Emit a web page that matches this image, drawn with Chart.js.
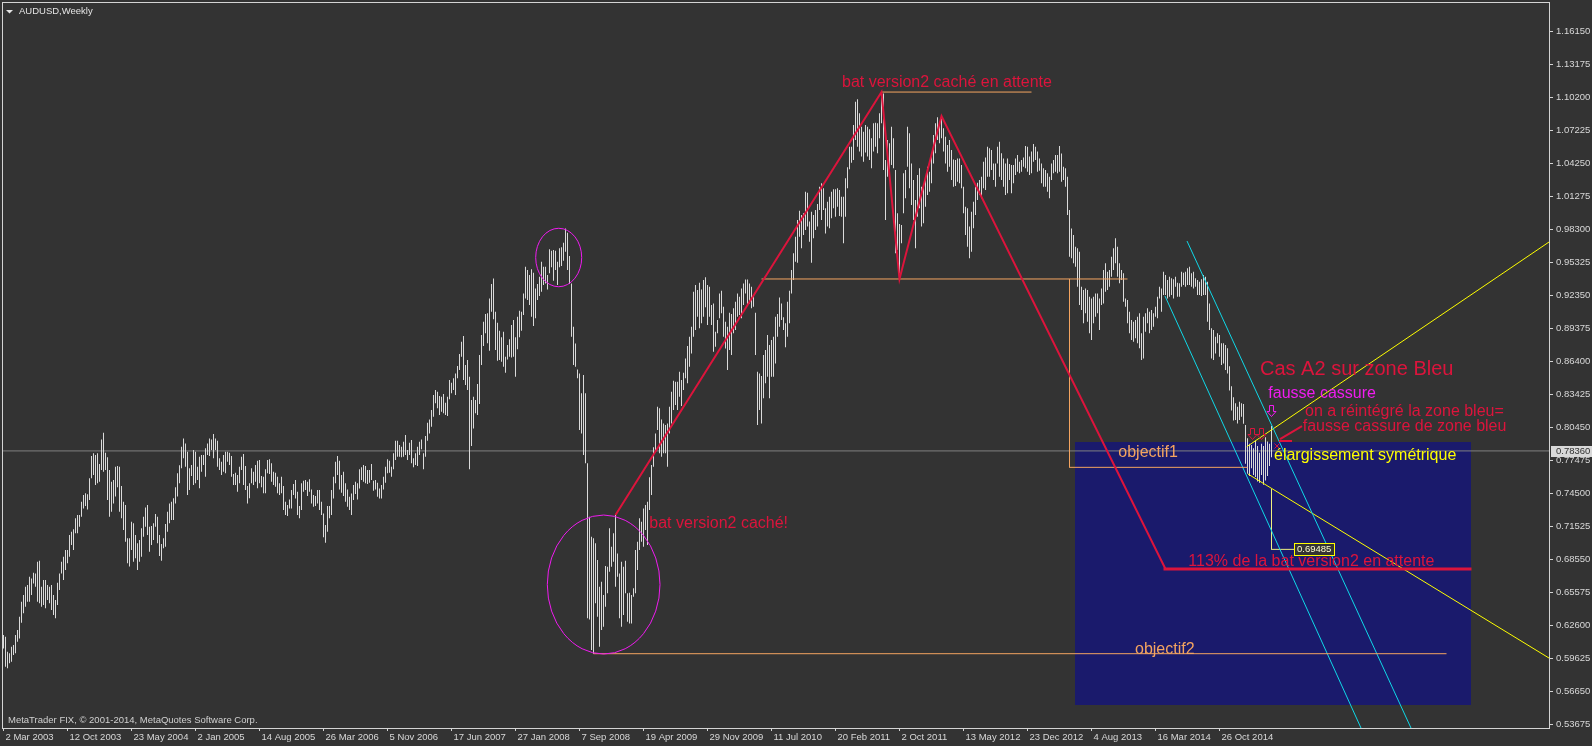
<!DOCTYPE html>
<html>
<head>
<meta charset="utf-8">
<title>AUDUSD,Weekly</title>
<script src="https://cdn.jsdelivr.net/npm/chart.js@4.4.1/dist/chart.umd.min.js"></script>
<style>
  html, body { margin: 0; padding: 0; background: #333333; }
  #wrap { width: 1592px; height: 746px; position: relative; }
</style>
</head>
<body>
<div id="wrap"><canvas id="chart"></canvas></div>
<script>
// weekly bars, one per week from the week of 2 Mar 2003 (index 0)
const highs = [
  0.6176,0.6161,0.6026,0.6011,0.6071,0.6086,0.6176,0.6222,0.6342,0.6477,
  0.6537,0.6612,0.6627,0.6702,0.6687,0.6738,0.6732,0.6838,0.6847,0.6612,
  0.6672,0.6672,0.6627,0.6612,0.6627,0.6537,0.6492,0.6648,0.6732,0.6838,
  0.6883,0.6943,0.6943,0.7078,0.7108,0.7129,0.7228,0.7258,0.7258,0.7378,
  0.7439,0.7454,0.7445,0.7589,0.7790,0.7814,0.7799,0.7814,0.7718,0.7940,
  0.8000,0.7820,0.7778,0.7664,0.7559,0.7574,0.7694,0.7700,0.7694,0.7520,
  0.7378,0.7348,0.7048,0.7048,0.7198,0.7183,0.7078,0.7003,0.7033,0.7138,
  0.7243,0.7327,0.7348,0.7153,0.7159,0.7183,0.7267,0.7243,0.7078,0.6997,
  0.7048,0.7177,0.7288,0.7363,0.7378,0.7409,0.7508,0.7634,0.7706,0.7874,
  0.7949,0.7904,0.7829,0.7679,0.7709,0.7844,0.7829,0.7694,0.7784,0.7799,
  0.7799,0.7859,0.7904,0.7949,0.7940,0.7988,0.7949,0.7928,0.7769,0.7739,
  0.7799,0.7829,0.7829,0.7820,0.7790,0.7628,0.7640,0.7619,0.7694,0.7784,
  0.7808,0.7700,0.7520,0.7544,0.7679,0.7649,0.7709,0.7748,0.7754,0.7610,
  0.7604,0.7670,0.7754,0.7760,0.7724,0.7649,0.7640,0.7604,0.7544,0.7604,
  0.7519,0.7378,0.7348,0.7399,0.7483,0.7537,0.7573,0.7468,0.7339,0.7544,
  0.7568,0.7573,0.7558,0.7580,0.7489,0.7438,0.7429,0.7483,0.7483,0.7378,
  0.7273,0.7168,0.7339,0.7339,0.7483,0.7604,0.7739,0.7790,0.7748,0.7619,
  0.7649,0.7544,0.7489,0.7423,0.7453,0.7528,0.7558,0.7544,0.7670,0.7688,
  0.7709,0.7700,0.7664,0.7664,0.7718,0.7568,0.7573,0.7549,0.7498,0.7528,
  0.7604,0.7694,0.7760,0.7748,0.7694,0.7814,0.7928,0.7928,0.7889,0.7874,
  0.7919,0.7979,0.7844,0.7910,0.7934,0.7769,0.7814,0.7874,0.7919,0.7940,
  0.7814,0.7970,0.8090,0.8120,0.8205,0.8340,0.8385,0.8370,0.8331,0.8325,
  0.8349,0.8271,0.8325,0.8475,0.8451,0.8490,0.8535,0.8601,0.8709,0.8821,
  0.8872,0.8610,0.8655,0.8505,0.8295,0.8325,0.8295,0.8439,0.8700,0.8881,
  0.9001,0.9070,0.9076,0.9211,0.9340,0.9391,0.9091,0.8992,0.8920,0.8860,
  0.8911,0.8685,0.8791,0.8842,0.8971,0.9016,0.8860,0.9046,0.9100,0.9091,
  0.9256,0.9497,0.9467,0.9421,0.9473,0.9443,0.9301,0.9340,0.9407,0.9542,
  0.9497,0.9497,0.9422,0.9653,0.9641,0.9647,0.9641,0.9542,0.9662,0.9671,
  0.9713,0.9842,0.9803,0.9593,0.9346,0.8956,0.8805,0.8571,0.8535,0.8355,
  0.8520,0.8355,0.7724,0.7243,0.7063,0.7048,0.7003,0.6852,0.6612,0.6657,
  0.6537,0.6798,0.6792,0.7138,0.6972,0.7093,0.7258,0.6912,0.6732,0.6837,
  0.6792,0.6846,0.6552,0.6558,0.6537,0.6597,0.6942,0.7017,0.7228,0.7198,
  0.7318,0.7348,0.7378,0.7598,0.7709,0.7868,0.7994,0.8235,0.8220,0.8120,
  0.8084,0.8069,0.8084,0.8235,0.8370,0.8469,0.8460,0.8460,0.8550,0.8475,
  0.8541,0.8670,0.8782,0.8866,0.8956,0.9271,0.9331,0.9286,0.9352,0.9292,
  0.9376,0.9401,0.9331,0.9316,0.9151,0.9166,0.8911,0.9016,0.9256,0.9280,
  0.9136,0.9001,0.8956,0.9082,0.9070,0.9121,0.9181,0.9256,0.9226,0.9301,
  0.9346,0.9382,0.9382,0.9346,0.9316,0.9241,0.9082,0.8550,0.8535,0.8511,
  0.8700,0.8745,0.8881,0.8790,0.8835,0.8866,0.9046,0.9070,0.9220,0.9166,
  0.9040,0.8986,0.9181,0.9280,0.9467,0.9617,0.9767,0.9917,1.0002,0.9963,
  0.9978,1.0173,1.0164,0.9903,0.9993,0.9963,1.0008,1.0062,1.0218,1.0248,
  1.0203,1.0023,1.0083,1.0128,1.0173,1.0194,1.0194,1.0203,1.0188,1.0128,
  1.0128,1.0293,1.0392,1.0579,1.0579,1.0774,1.0984,1.1005,1.0879,1.0759,
  1.0714,1.0774,1.0759,1.0735,1.0654,1.0789,1.0795,1.0789,1.0879,1.1071,
  1.1059,1.0458,1.0639,1.0609,1.0759,1.0654,1.0368,0.9978,0.9882,0.9873,
  1.0338,1.0368,1.0759,1.0699,1.0428,1.0278,1.0098,1.0323,1.0383,1.0218,
  1.0218,1.0278,1.0398,1.0353,1.0489,1.0684,1.0789,1.0843,1.0804,1.0855,
  1.0744,1.0669,1.0594,1.0639,1.0549,1.0464,1.0458,1.0473,1.0473,1.0413,
  1.0218,1.0038,1.0023,0.9858,0.9993,1.0083,1.0218,1.0254,1.0278,1.0308,
  1.0443,1.0482,1.0579,1.0564,1.0549,1.0428,1.0428,1.0579,1.0624,1.0519,
  1.0473,1.0428,1.0473,1.0422,1.0413,1.0413,1.0473,1.0504,1.0443,1.0458,
  1.0482,1.0585,1.0579,1.0489,1.0534,1.0603,1.0579,1.0534,1.0473,1.0428,
  1.0383,1.0368,1.0338,1.0308,1.0428,1.0458,1.0503,1.0503,1.0585,1.0518,
  1.0398,1.0383,1.0308,1.0008,0.9842,0.9782,0.9677,0.9662,0.9632,0.9316,
  0.9286,0.9301,0.9286,0.9226,0.9211,0.9226,0.9256,0.9256,0.9211,0.9301,
  0.9467,0.9527,0.9452,0.9467,0.9587,0.9662,0.9752,0.9677,0.9527,0.9467,
  0.9437,0.9211,0.9196,0.9091,0.9016,0.9001,0.9016,0.9046,0.9076,0.8896,
  0.9046,0.9076,0.9121,0.9091,0.9106,0.9076,0.9136,0.9226,0.9316,0.9301,
  0.9452,0.9422,0.9377,0.9407,0.9392,0.9383,0.9407,0.9353,0.9347,0.9452,
  0.9443,0.9452,0.9482,0.9497,0.9437,0.9452,0.9392,0.9377,0.9362,0.9383,
  0.9422,0.9407,0.9362,0.9166,0.8941,0.8926,0.8866,0.8896,0.8881,0.8806,
  0.8806,0.8791,0.8761,0.8600,0.8420,0.8320,0.8265,0.8235,0.8280,0.8265,
  0.8260,0.8070,0.7950,0.7900,0.7890,0.7860,0.7930,0.7880,0.7820,0.7900,
  0.7880,0.7960,0.7920,0.7900,0.8060
];
const lows = [
  0.6056,0.5891,0.5876,0.5921,0.5936,0.5996,0.6011,0.6116,0.6146,0.6288,
  0.6372,0.6432,0.6477,0.6477,0.6537,0.6642,0.6612,0.6477,0.6462,0.6432,
  0.6447,0.6417,0.6492,0.6462,0.6402,0.6357,0.6327,0.6447,0.6582,0.6732,
  0.6672,0.6762,0.6823,0.6883,0.6988,0.6943,0.7093,0.7093,0.7153,0.7243,
  0.7318,0.7339,0.7309,0.7394,0.7589,0.7619,0.7529,0.7544,0.7559,0.7664,
  0.7649,0.7664,0.7394,0.7243,0.7288,0.7363,0.7424,0.7508,0.7288,0.7228,
  0.7123,0.7018,0.6823,0.6793,0.6943,0.6838,0.6868,0.6762,0.6838,0.6883,
  0.7063,0.7153,0.7078,0.6928,0.6988,0.7033,0.7153,0.7003,0.6889,0.6847,
  0.6958,0.6973,0.7108,0.7183,0.7213,0.7213,0.7363,0.7424,0.7544,0.7679,
  0.7769,0.7694,0.7439,0.7484,0.7610,0.7529,0.7544,0.7574,0.7499,0.7649,
  0.7709,0.7604,0.7799,0.7790,0.7844,0.7769,0.7844,0.7694,0.7664,0.7619,
  0.7649,0.7634,0.7739,0.7709,0.7604,0.7529,0.7529,0.7469,0.7544,0.7664,
  0.7529,0.7484,0.7363,0.7409,0.7544,0.7529,0.7559,0.7499,0.7544,0.7508,
  0.7454,0.7454,0.7634,0.7628,0.7558,0.7528,0.7513,0.7454,0.7438,0.7454,
  0.7303,0.7258,0.7249,0.7318,0.7318,0.7438,0.7408,0.7258,0.7228,0.7303,
  0.7468,0.7483,0.7429,0.7468,0.7363,0.7333,0.7339,0.7363,0.7303,0.7258,
  0.7057,0.7009,0.7108,0.7228,0.7258,0.7408,0.7544,0.7619,0.7489,0.7459,
  0.7429,0.7378,0.7333,0.7303,0.7258,0.7393,0.7447,0.7399,0.7498,0.7573,
  0.7558,0.7544,0.7537,0.7549,0.7573,0.7477,0.7489,0.7423,0.7408,0.7408,
  0.7489,0.7549,0.7634,0.7640,0.7604,0.7670,0.7754,0.7784,0.7784,0.7778,
  0.7784,0.7799,0.7754,0.7799,0.7724,0.7688,0.7709,0.7700,0.7799,0.7850,
  0.7670,0.7784,0.7928,0.7994,0.8054,0.8145,0.8265,0.8220,0.8160,0.8190,
  0.8175,0.8160,0.8150,0.8301,0.8355,0.8385,0.8340,0.8490,0.8565,0.8685,
  0.8475,0.8430,0.8385,0.7670,0.7880,0.8039,0.8175,0.8160,0.8259,0.8610,
  0.8782,0.8896,0.8806,0.8739,0.9091,0.9022,0.8745,0.8649,0.8655,0.8640,
  0.8595,0.8541,0.8661,0.8685,0.8679,0.8685,0.8505,0.8752,0.8860,0.8920,
  0.9061,0.9211,0.9196,0.9151,0.9046,0.8962,0.9031,0.9196,0.9232,0.9271,
  0.9331,0.9346,0.9292,0.9437,0.9491,0.9370,0.9467,0.9331,0.9491,0.9503,
  0.9551,0.9632,0.9467,0.9340,0.8866,0.8610,0.8595,0.8490,0.8024,0.7994,
  0.7799,0.7724,0.6327,0.6317,0.6041,0.6008,0.6462,0.6342,0.6071,0.6221,
  0.6251,0.6432,0.6552,0.6747,0.6792,0.6837,0.6612,0.6702,0.6327,0.6251,
  0.6357,0.6552,0.6296,0.6281,0.6281,0.6522,0.6552,0.6762,0.6942,0.7017,
  0.6972,0.7123,0.6987,0.7303,0.7438,0.7694,0.7829,0.8024,0.7814,0.7784,
  0.7814,0.7814,0.7694,0.7994,0.8084,0.8205,0.8250,0.8205,0.8325,0.8241,
  0.8385,0.8490,0.8445,0.8595,0.8715,0.8866,0.8926,0.9046,0.8941,0.8986,
  0.9046,0.9130,0.8971,0.9046,0.8971,0.8730,0.8775,0.8896,0.9031,0.9076,
  0.8866,0.8760,0.8565,0.8745,0.8700,0.8896,0.8926,0.9046,0.9061,0.9031,
  0.9151,0.9256,0.9151,0.9166,0.9121,0.9136,0.8700,0.8069,0.8205,0.8084,
  0.8310,0.8445,0.8505,0.8310,0.8505,0.8505,0.8625,0.8866,0.8956,0.9016,
  0.8926,0.8770,0.8866,0.8986,0.9256,0.9377,0.9542,0.9533,0.9767,0.9662,
  0.9782,0.9827,0.9858,0.9722,0.9533,0.9752,0.9827,0.9858,1.0008,0.9918,
  1.0008,0.9797,0.9858,0.9843,0.9933,1.0023,0.9948,1.0038,0.9954,0.9948,
  0.9707,0.9948,1.0203,1.0374,1.0434,1.0458,1.0639,1.0579,1.0534,1.0489,
  1.0443,1.0525,1.0489,1.0458,1.0383,1.0534,1.0579,1.0519,1.0654,1.0789,
  1.0368,0.9918,1.0308,1.0353,1.0413,1.0383,0.9617,0.9647,0.9386,0.9707,
  0.9978,1.0113,1.0398,1.0203,1.0053,0.9918,0.9662,0.9948,1.0023,0.9858,
  0.9888,1.0038,1.0143,1.0173,1.0248,1.0428,1.0519,1.0639,1.0609,1.0654,
  1.0534,1.0428,1.0353,1.0398,1.0278,1.0218,1.0224,1.0263,1.0248,1.0203,
  0.9978,0.9782,0.9677,0.9572,0.9632,0.9843,0.9963,1.0098,1.0143,1.0113,
  1.0203,1.0188,1.0308,1.0308,1.0368,1.0278,1.0218,1.0428,1.0308,1.0278,
  1.0218,1.0143,1.0158,1.0278,1.0158,1.0248,1.0323,1.0353,1.0338,1.0353,
  1.0398,1.0383,1.0353,1.0323,1.0338,1.0443,1.0458,1.0353,1.0362,1.0248,
  1.0218,1.0218,1.0173,1.0113,1.0278,1.0338,1.0353,1.0338,1.0353,1.0263,
  1.0278,1.0218,0.9963,0.9587,0.9572,0.9527,0.9497,0.9316,0.9151,0.9106,
  0.8986,0.9076,0.9001,0.8896,0.8836,0.8986,0.9046,0.9076,0.8926,0.9151,
  0.9166,0.9271,0.9286,0.9316,0.9407,0.9467,0.9527,0.9407,0.9347,0.9377,
  0.9181,0.9136,0.8986,0.8896,0.8836,0.8821,0.8851,0.8806,0.8761,0.8655,
  0.8670,0.8911,0.8986,0.8896,0.8926,0.8956,0.9046,0.9031,0.9211,0.9091,
  0.9241,0.9241,0.9211,0.9226,0.9241,0.9211,0.9316,0.9226,0.9226,0.9316,
  0.9331,0.9316,0.9331,0.9331,0.9316,0.9301,0.9316,0.9241,0.9241,0.9232,
  0.9241,0.9241,0.9001,0.8926,0.8670,0.8655,0.8715,0.8806,0.8685,0.8610,
  0.8625,0.8565,0.8535,0.8380,0.8200,0.8110,0.8115,0.8084,0.8114,0.8144,
  0.8080,0.7720,0.7630,0.7610,0.7680,0.7620,0.7600,0.7560,0.7550,0.7620,
  0.7530,0.7570,0.7610,0.7700,0.7780
];
const lastPrice = 0.7836;
const targetPrice = 0.69485;

// time labels every 32 weeks
const xTickLabels = ['2 Mar 2003', '12 Oct 2003', '23 May 2004', '2 Jan 2005', '14 Aug 2005',
  '26 Mar 2006', '5 Nov 2006', '17 Jun 2007', '27 Jan 2008', '7 Sep 2008', '19 Apr 2009',
  '29 Nov 2009', '11 Jul 2010', '20 Feb 2011', '2 Oct 2011', '13 May 2012', '23 Dec 2012',
  '4 Aug 2013', '16 Mar 2014', '26 Oct 2014'];
const xTickStep = 32;
const yTickLabels = ['0.53675', '0.56650', '0.59625', '0.62600', '0.65575', '0.68550', '0.71525',
  '0.74500', '0.77475', '0.80450', '0.83425', '0.86400', '0.89375', '0.92350', '0.95325',
  '0.98300', '1.01275', '1.04250', '1.07225', '1.10200', '1.13175', '1.16150'];

// drawn objects, as [bar index, price]
const batLine = [[306, 0.7258], [439, 1.1071], [448, 0.9386], [469, 1.0855], [581, 0.6771]];
const topLevel = [[439, 1.1071], [514, 1.1071]];
const bLevel = [[379, 0.9386], [562, 0.9386]];
const objectif1 = [[533, 0.9386], [533, 0.7688], [622, 0.7688]];
const objectif2 = [[295, 0.6008], [721.5, 0.6008]];
const level113 = [[580, 0.6771], [734, 0.6771]];
const channelA = [[580.75, 0.9232], [678.75, 0.5338]];
const channelB = [[591.75, 0.9728], [703.75, 0.5338]];
const wedgeTop = [[621.6, 0.7874], [772.75, 0.9719]];
const wedgeBottom = [[622.25, 0.7628], [772.75, 0.5969]];
const targetMark = [[634, 0.7490], [634, targetPrice], [645.25, targetPrice]];
const zone = { i0: 535.75, i1: 733.75, p0: 0.7916, p1: 0.5545 };
const circles = [
  { i0: 266.1, i1: 289.1, p0: 0.9843, p1: 0.9316 },
  { i0: 271.9, i1: 328.25, p0: 0.7258, p1: 0.6005 }
];

const crimson = '#dc143c';
const magenta = '#f01cf0';
const tan = '#f4a460';
const yellow = '#ffff00';
const cyan = '#10d8e8';
const frameColor = '#d4d4d4';
const fontFamily = '"Liberation Sans", Arial, sans-serif';

const notes = [
  { text: 'bat version2 caché en attente', i: 419.25, p: 1.1121, color: crimson, size: 16 },
  { text: 'bat version2 caché!', i: 322.9, p: 0.7144, color: crimson, size: 16 },
  { text: 'Cas A2 sur zone Bleu', i: 628.25, p: 0.8520, color: crimson, size: 20 },
  { text: 'fausse cassure', i: 632.4, p: 0.8310, color: magenta, size: 16 },
  { text: 'on a réintégré la zone bleu=', i: 650.75, p: 0.8151, color: crimson, size: 16 },
  { text: 'fausse cassure de zone bleu', i: 649.6, p: 0.8018, color: crimson, size: 16 },
  { text: 'élargissement symétrique', i: 635.25, p: 0.7754, color: yellow, size: 16 },
  { text: 'objectif1', i: 557.4, p: 0.7784, color: tan, size: 16 },
  { text: 'objectif2', i: 565.75, p: 0.6004, color: tan, size: 16 },
  { text: '113% de la bat version2 en attente', i: 592.4, p: 0.6798, color: crimson, size: 16 }
];
const downArrows = [
  { i: 624.25, p: 0.7989, color: crimson },
  { i: 628.75, p: 0.7989, color: crimson },
  { i: 633.75, p: 0.8196, color: magenta }
];

function lineSet(points, color, width, order) {
  return {
    type: 'line',
    data: points.map(([x, y]) => ({ x, y })),
    borderColor: color,
    borderWidth: width,
    pointRadius: 0,
    fill: false,
    tension: 0,
    order: order === undefined ? 1 : order
  };
}

const overlay = {
  id: 'overlay',
  beforeDatasetsDraw(chart) {
    const { ctx, chartArea: a } = chart;
    const X = chart.scales.x, Y = chart.scales.y;
    ctx.save();
    ctx.beginPath();
    ctx.rect(a.left, a.top, a.right - a.left, a.bottom - a.top);
    ctx.clip();
    const x0 = Math.round(X.getPixelForValue(zone.i0)), x1 = Math.round(X.getPixelForValue(zone.i1));
    const y0 = Math.round(Y.getPixelForValue(zone.p0)), y1 = Math.round(Y.getPixelForValue(zone.p1));
    ctx.fillStyle = '#1a1a6c';
    ctx.fillRect(x0, y0, x1 - x0, y1 - y0);
    ctx.restore();
  },
  afterDatasetsDraw(chart) {
    const { ctx } = chart;
    const X = chart.scales.x, Y = chart.scales.y;
    ctx.save();
    // ellipses
    ctx.strokeStyle = magenta;
    ctx.lineWidth = 1;
    circles.forEach((c) => {
      const xa = X.getPixelForValue(c.i0), xb = X.getPixelForValue(c.i1);
      const ya = Y.getPixelForValue(c.p0), yb = Y.getPixelForValue(c.p1);
      ctx.beginPath();
      ctx.ellipse((xa + xb) / 2, (ya + yb) / 2, (xb - xa) / 2, (yb - ya) / 2, 0, 0, Math.PI * 2);
      ctx.stroke();
    });
    // hollow down arrows
    downArrows.forEach((d) => {
      const cx = Math.round(X.getPixelForValue(d.i)) + 0.5, cy = Math.round(Y.getPixelForValue(d.p)) + 0.5;
      ctx.strokeStyle = d.color;
      ctx.beginPath();
      ctx.moveTo(cx - 2, cy - 6);
      ctx.lineTo(cx + 2, cy - 6);
      ctx.lineTo(cx + 2, cy);
      ctx.lineTo(cx + 4.5, cy);
      ctx.lineTo(cx, cy + 5);
      ctx.lineTo(cx - 4.5, cy);
      ctx.lineTo(cx - 2, cy);
      ctx.closePath();
      ctx.stroke();
    });
    // pointer arrow towards the false break
    ctx.strokeStyle = crimson;
    ctx.lineWidth = 2;
    ctx.beginPath();
    ctx.moveTo(X.getPixelForValue(649.25), Y.getPixelForValue(0.8060));
    ctx.lineTo(X.getPixelForValue(638.25), Y.getPixelForValue(0.7943));
    ctx.moveTo(X.getPixelForValue(637.75), Y.getPixelForValue(0.7925));
    ctx.lineTo(X.getPixelForValue(644.25), Y.getPixelForValue(0.7925));
    ctx.stroke();
    ctx.lineWidth = 1;
    const xx = X.getPixelForValue(636.75), xy = Y.getPixelForValue(0.7880);
    ctx.beginPath();
    ctx.moveTo(xx - 2.5, xy - 2.5); ctx.lineTo(xx + 2.5, xy + 2.5);
    ctx.moveTo(xx + 2.5, xy - 2.5); ctx.lineTo(xx - 2.5, xy + 2.5);
    ctx.stroke();
    // texts
    ctx.textBaseline = 'alphabetic';
    ctx.textAlign = 'left';
    notes.forEach((n) => {
      ctx.font = n.size + 'px ' + fontFamily;
      ctx.fillStyle = n.color;
      ctx.fillText(n.text, X.getPixelForValue(n.i), Y.getPixelForValue(n.p));
    });
    // target price label
    ctx.font = '9.5px ' + fontFamily;
    const tx = Math.round(X.getPixelForValue(645.25)), ty = Math.round(Y.getPixelForValue(targetPrice));
    const tw = Math.ceil(ctx.measureText(targetPrice.toFixed(5)).width) + 5;
    ctx.fillStyle = '#333333';
    ctx.fillRect(tx, ty - 6, tw, 12);
    ctx.strokeStyle = yellow;
    ctx.strokeRect(tx + 0.5, ty - 5.5, tw, 12);
    ctx.fillStyle = '#ffffd0';
    ctx.textBaseline = 'middle';
    ctx.fillText(targetPrice.toFixed(5), tx + 3, ty + 0.5);
    ctx.restore();
  },
  afterDraw(chart) {
    const { ctx, chartArea: a } = chart;
    const Y = chart.scales.y;
    ctx.save();
    ctx.strokeStyle = frameColor;
    ctx.lineWidth = 1;
    ctx.strokeRect(a.left - 0.5, a.top - 0.5, a.right - a.left + 1, a.bottom - a.top + 1);
    // title
    ctx.fillStyle = '#e4e4e4';
    ctx.beginPath();
    ctx.moveTo(6, 10); ctx.lineTo(13, 10); ctx.lineTo(9.5, 13.5); ctx.closePath();
    ctx.fill();
    ctx.font = '9.5px ' + fontFamily;
    ctx.textBaseline = 'alphabetic';
    ctx.fillText('AUDUSD,Weekly', 19, 14);
    ctx.fillStyle = '#d0d0d0';
    ctx.fillText('MetaTrader FIX, \u00a9 2001-2014, MetaQuotes Software Corp.', 8, 723);
    // current price box on the axis
    const py = Math.round(Y.getPixelForValue(lastPrice));
    ctx.fillStyle = '#d8d8d8';
    ctx.fillRect(a.right + 2, py - 5, chart.width - a.right - 2, 11);
    ctx.fillStyle = '#303030';
    ctx.textBaseline = 'middle';
    ctx.fillText(lastPrice.toFixed(5), a.right + 7, py + 0.5);
    ctx.restore();
  }
};

const bars = highs.map((h, i) => ({ x: i, y: [lows[i], h] }));

new Chart(document.getElementById('chart'), {
  type: 'bar',
  data: {
    datasets: [
      lineSet(batLine, crimson, 2),
      lineSet(level113, crimson, 3),
      lineSet(topLevel, tan, 1),
      lineSet(bLevel, tan, 1),
      lineSet(objectif1, tan, 1),
      lineSet(objectif2, tan, 1),
      lineSet(channelA, cyan, 1),
      lineSet(channelB, cyan, 1),
      lineSet(wedgeTop, yellow, 1),
      lineSet(wedgeBottom, yellow, 1),
      lineSet(targetMark, '#f0f080', 1),
      {
        type: 'bar',
        data: bars,
        backgroundColor: '#dadada',
        borderWidth: 0,
        barThickness: 1,
        inflateAmount: 0,
        order: 10
      },
      lineSet([[-0.25, lastPrice], [772.75, lastPrice]], '#808080', 1, 11)
    ]
  },
  options: {
    responsive: true,
    maintainAspectRatio: false,
    animation: false,
    devicePixelRatio: 1,
    events: [],
    layout: { padding: { left: 3, top: 3, right: 0, bottom: 0 } },
    plugins: { legend: { display: false }, tooltip: { enabled: false }, title: { display: false } },
    scales: {
      x: {
        type: 'linear',
        min: -0.25,
        max: 772.75,
        offset: false,
        bounds: 'data',
        border: { display: false },
        grid: { drawOnChartArea: false, drawTicks: true, tickLength: 3, color: frameColor, offset: false },
        ticks: {
          autoSkip: false,
          maxRotation: 0,
          minRotation: 0,
          align: 'start',
          labelOffset: 2,
          padding: 1,
          color: '#d8d8d8',
          font: { family: fontFamily, size: 9.5 },
          callback: (v) => xTickLabels[Math.round(v / xTickStep)]
        },
        afterBuildTicks: (s) => { s.ticks = xTickLabels.map((_, k) => ({ value: k * xTickStep })); },
        afterFit: (s) => { s.height = 18; s.paddingLeft = 0; s.paddingRight = 0; }
      },
      y: {
        type: 'linear',
        position: 'right',
        min: 0.53383,
        max: 1.18737,
        bounds: 'data',
        border: { display: false },
        grid: { drawOnChartArea: false, drawTicks: true, tickLength: 4, color: frameColor },
        ticks: {
          autoSkip: false,
          padding: 3,
          color: '#d8d8d8',
          font: { family: fontFamily, size: 9.5 },
          callback: (v, idx) => yTickLabels[idx]
        },
        afterBuildTicks: (s) => { s.ticks = yTickLabels.map((t) => ({ value: parseFloat(t) })); },
        afterFit: (s) => { s.width = 43; s.paddingTop = 0; s.paddingBottom = 0; }
      }
    }
  },
  plugins: [overlay]
});
</script>
</body>
</html>
